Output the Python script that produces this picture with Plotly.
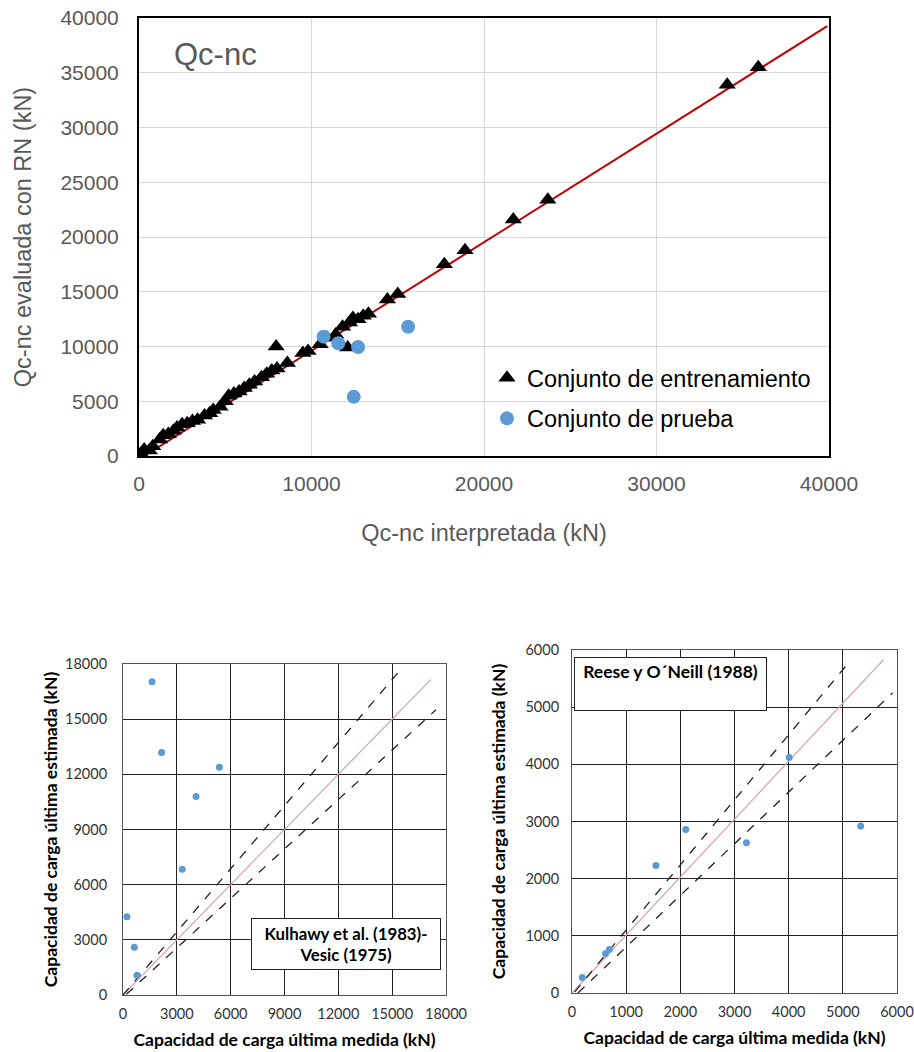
import plotly.graph_objects as go

# --- top chart: Qc-nc (kN) ---
train_x = [100, 300, 600, 800, 1200, 1400, 1700, 2000, 2200, 2500, 2800, 3100, 3400, 3800,
           4100, 4300, 4700, 5000, 5200, 5500, 5800, 6100, 6400, 6700, 7100, 7400, 7700,
           7950, 8000, 8600, 9500, 9800, 10500, 10900, 11400, 11800, 12100, 12200, 12400,
           12700, 13000, 13300, 14400, 15000, 17700, 18900, 21700, 23700, 34100, 35900]
train_y = [200, 600, 500, 900, 1500, 1900, 2000, 2300, 2600, 2900, 3000, 3200, 3300, 3700,
           3900, 4200, 4500, 5000, 5500, 5700, 5900, 6200, 6500, 6800, 7200, 7500, 7800,
           10000, 8000, 8500, 9400, 9600, 10200, 10800, 11100, 11800, 9900, 12200, 12600,
           12500, 12800, 13000, 14300, 14800, 17500, 18800, 21600, 23400, 33900, 35500]
test_x = [10700, 11550, 12700, 15600, 12450]
test_y = [10900, 10300, 9950, 11800, 5400]
fit_x = [300, 39900]
fit_y = [0, 39250]

# --- bottom left: Kulhawy et al. (1983) - Vesic (1975) ---
kul_x = [1620, 2150, 5370, 4070, 3300, 220, 630, 780]
kul_y = [17040, 13190, 12390, 10800, 6840, 4250, 2600, 1070]
kul_line_x = [0, 17150]
kul_line_y = [0, 17150]
kul_up_x = [0, 15300]
kul_up_y = [0, 17500]
kul_lo_x = [190, 17440]
kul_lo_y = [40, 15510]

# --- bottom right: Reese y O'Neill (1988) ---
ree_x = [190, 620, 690, 1550, 2100, 3220, 4010, 5330]
ree_y = [270, 690, 760, 2230, 2860, 2630, 4120, 2920]
ree_line_x = [0, 5750]
ree_line_y = [0, 5830]
ree_up_x = [50, 5100]
ree_up_y = [20, 5770]
ree_lo_x = [110, 5920]
ree_lo_y = [0, 5250]

W, H = 914, 1052
GREY = "#595959"
BLUE = "#5B9BD5"
CAL = "Lato, Carlito, sans-serif"
ARIAL = "Liberation Sans, Arial, sans-serif"


def px_x(a, b):
    return [a / W, b / W]


def px_y(top, bottom):
    return [1 - bottom / H, 1 - top / H]


fig = go.Figure()

# top
fig.add_trace(go.Scatter(x=fit_x, y=fit_y, mode="lines", line=dict(color="#C00000", width=2),
                         showlegend=False, xaxis="x", yaxis="y"))
fig.add_trace(go.Scatter(x=train_x, y=train_y, mode="markers", name="Conjunto de entrenamiento",
                         marker=dict(symbol="triangle-up", size=15, color="black"),
                         legendgroup="a", xaxis="x", yaxis="y"))
fig.add_trace(go.Scatter(x=test_x, y=test_y, mode="markers", name="Conjunto de prueba",
                         marker=dict(symbol="circle", size=14, color=BLUE),
                         legendgroup="b", xaxis="x", yaxis="y"))

# bottom left
fig.add_trace(go.Scatter(x=kul_line_x, y=kul_line_y, mode="lines", line=dict(color="#D9A0AC", width=1.2),
                         showlegend=False, xaxis="x2", yaxis="y2"))
for lx, ly in [(kul_up_x, kul_up_y), (kul_lo_x, kul_lo_y)]:
    fig.add_trace(go.Scatter(x=lx, y=ly, mode="lines", line=dict(color="#222222", width=1.3, dash="dash"),
                             showlegend=False, xaxis="x2", yaxis="y2"))
fig.add_trace(go.Scatter(x=kul_x, y=kul_y, mode="markers", marker=dict(size=7, color=BLUE),
                         showlegend=False, xaxis="x2", yaxis="y2"))

# bottom right
fig.add_trace(go.Scatter(x=ree_line_x, y=ree_line_y, mode="lines", line=dict(color="#D9A0AC", width=1.2),
                         showlegend=False, xaxis="x3", yaxis="y3"))
for lx, ly in [(ree_up_x, ree_up_y), (ree_lo_x, ree_lo_y)]:
    fig.add_trace(go.Scatter(x=lx, y=ly, mode="lines", line=dict(color="#222222", width=1.3, dash="dash"),
                             showlegend=False, xaxis="x3", yaxis="y3"))
fig.add_trace(go.Scatter(x=ree_x, y=ree_y, mode="markers", marker=dict(size=7, color=BLUE),
                         showlegend=False, xaxis="x3", yaxis="y3"))

top_ax = dict(showline=True, mirror=True, linecolor="black", linewidth=2,
              showgrid=True, gridcolor="#D9D9D9", gridwidth=1.3, zeroline=False,
              tickfont=dict(family=ARIAL, size=21, color=GREY), ticks="",
              tickformat="d", automargin=False)
bot_ax = dict(showline=True, mirror=True, linecolor="#555555", linewidth=1,
              showgrid=True, gridcolor="#222222", gridwidth=1, zeroline=False,
              tickfont=dict(family=CAL, size=14.5, color="#333333"), ticks="",
              tickformat="d", automargin=False)
bot_title = dict(family=CAL, size=17.5, color="black", weight="bold")
top_title = dict(family=ARIAL, size=23.5, color=GREY)

fig.update_layout(
    width=W, height=H, margin=dict(l=0, r=0, t=0, b=0),
    paper_bgcolor="white", plot_bgcolor="white",
    showlegend=True,
    legend=dict(x=487 / W, y=1 - 356 / H, xanchor="left", yanchor="top",
                font=dict(family=ARIAL, size=23.5, color="black"),
                bgcolor="rgba(0,0,0,0)", tracegroupgap=7, itemwidth=30),
    xaxis=dict(top_ax, domain=px_x(139, 829), range=[0, 40000], dtick=10000, anchor="y",
               ticklabelstandoff=8,
               title=dict(text="Qc-nc interpretada (kN)", font=top_title, standoff=30)),
    yaxis=dict(top_ax, domain=px_y(18, 456), range=[0, 40000], dtick=5000, anchor="x",
               ticklabelstandoff=14,
               title=dict(text="Qc-nc evaluada con RN (kN)", font=top_title, standoff=22)),
    xaxis2=dict(bot_ax, domain=px_x(123, 446), range=[0, 18000], dtick=3000, anchor="y2",
                ticklabelstandoff=6,
                title=dict(text="Capacidad de carga última medida (kN)", font=bot_title, standoff=12)),
    yaxis2=dict(bot_ax, domain=px_y(664, 995), range=[0, 18000], dtick=3000, anchor="x2",
                ticklabelstandoff=12,
                title=dict(text="Capacidad de carga última estimada (kN)", font=bot_title, standoff=2)),
    xaxis3=dict(bot_ax, domain=px_x(572, 897), range=[0, 6000], dtick=1000, anchor="y3",
                ticklabelstandoff=6,
                title=dict(text="Capacidad de carga última medida (kN)", font=bot_title, standoff=12)),
    yaxis3=dict(bot_ax, domain=px_y(650, 993), range=[0, 6000], dtick=1000, anchor="x3",
                ticklabelstandoff=9,
                title=dict(text="Capacidad de carga última estimada (kN)", font=bot_title, standoff=15)),
    annotations=[
        dict(text="Qc-nc", xref="paper", yref="paper", x=172 / W, y=1 - 55 / H,
             xanchor="left", yanchor="middle", showarrow=False,
             font=dict(family=ARIAL, size=31, color=GREY)),
        dict(text="<b>Kulhawy et al. (1983)-<br>Vesic (1975)</b>", xref="paper", yref="paper",
             x=346 / W, y=1 - 944 / H, xanchor="center", yanchor="middle", showarrow=False,
             font=dict(family=CAL, size=16.8, color="black"), align="center",
             bgcolor="white", bordercolor="#222222", borderwidth=1, borderpad=3,
             width=182, height=44),
        dict(text="<b>Reese y O´Neill (1988)</b>", xref="paper", yref="paper",
             x=670 / W, y=1 - 684 / H, xanchor="center", yanchor="middle", showarrow=False,
             font=dict(family=CAL, size=17.5, color="black"), align="center", valign="top",
             bgcolor="white", bordercolor="#222222", borderwidth=1, borderpad=3,
             width=185, height=46),
    ],
)

fig.write_html("out.html", config={"displayModeBar": False},
               post_script="document.body.style.margin='0px';")
